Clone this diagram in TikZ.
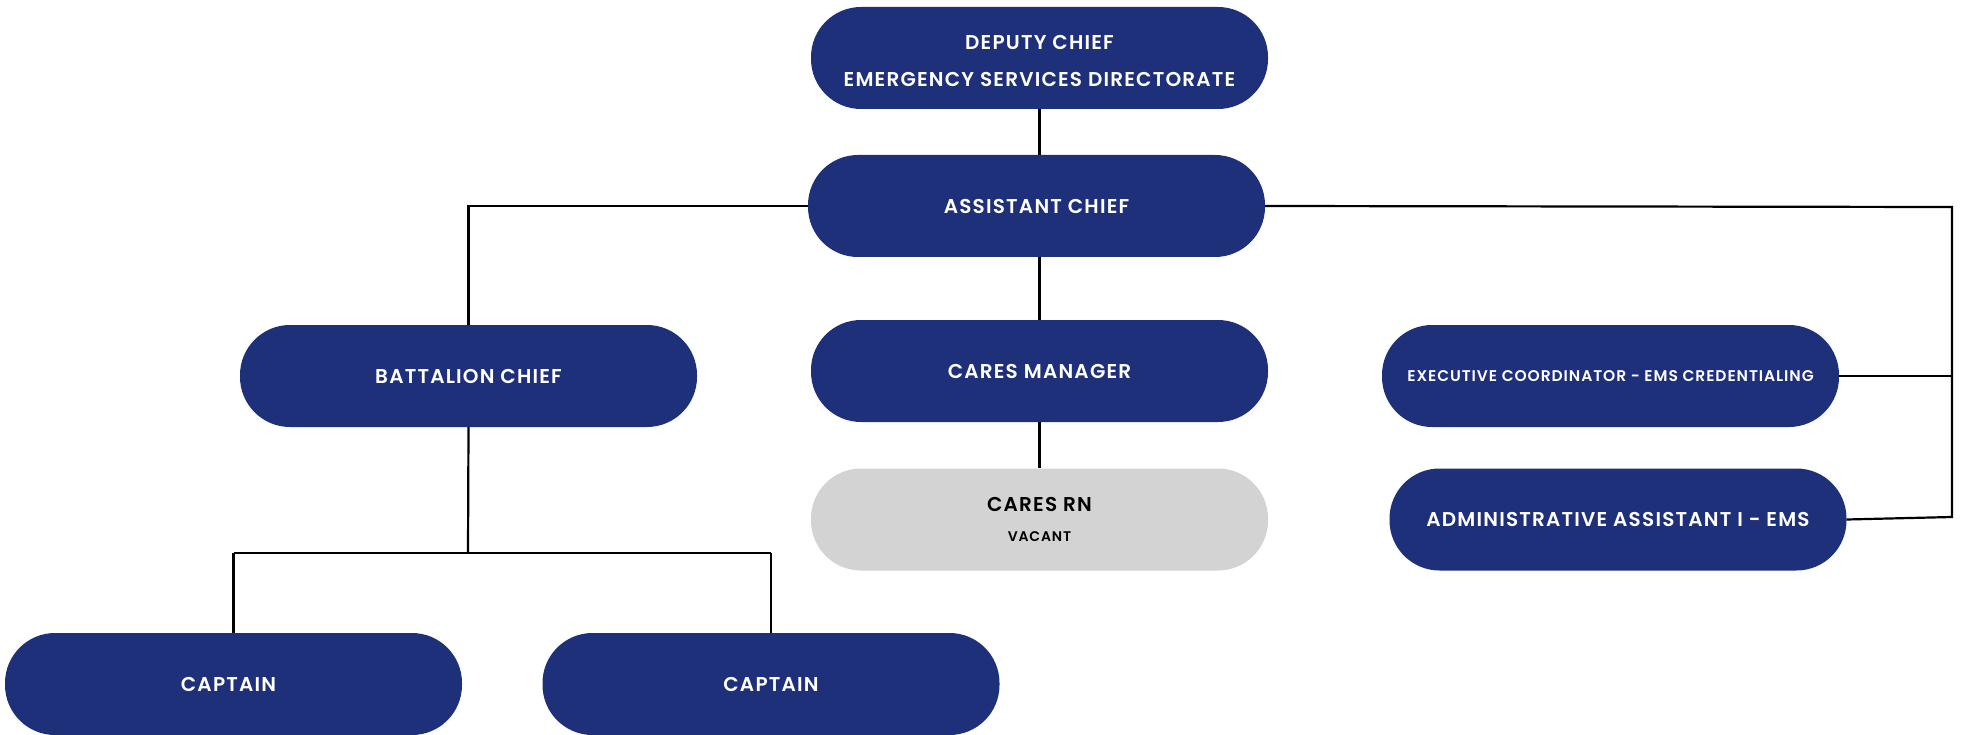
\documentclass[tikz,border=0pt]{standalone}
\usepackage{fontspec}
\setmainfont{Poppins}[BoldFont={Poppins SemiBold},LetterSpace=6]
\definecolor{navy}{HTML}{1F307B}
\definecolor{vacgrey}{HTML}{D3D3D3}
\begin{document}
\begin{tikzpicture}[x=1pt,y=-1pt,
  pill/.style={fill=navy,text=white,rounded corners=50pt,inner sep=0pt,
    minimum width=457pt,minimum height=102pt,align=center,font=\bfseries\fontsize{20}{36}\selectfont},
  vac/.style={pill,fill=vacgrey,text=black},
  link/.style={draw=black,line width=2.2pt}]
\useasboundingbox (0,0) rectangle (1962,735);
\node[pill] (dep) at (1039.5,58) {\raisebox{-8pt}[0pt][0pt]{\begin{tabular}{@{}c@{}}DEPUTY CHIEF\\[1pt]EMERGENCY SERVICES DIRECTORATE\end{tabular}}};
\node[pill] (asst) at (1036.5,206) {ASSISTANT CHIEF};
\node[pill] (bc) at (468.5,376) {BATTALION CHIEF};
\node[pill] (cm) at (1039.5,371) {CARES MANAGER};
\node[vac] (rn) at (1039.5,519.5) {CARES RN\\[-6pt]{\fontsize{14}{16}\selectfont VACANT}};
\node[pill,font=\bfseries\fontsize{15.5}{18}\selectfont] (exec) at (1610.5,376) {EXECUTIVE COORDINATOR - EMS CREDENTIALING};
\node[pill] (admin) at (1618,519.5) {ADMINISTRATIVE ASSISTANT I - EMS};
\node[pill] (cap1) at (233.5,684) {\hspace*{-10pt}CAPTAIN};
\node[pill] (cap2) at (771,684) {CAPTAIN};
\coordinate (rtop) at (1952,207);
\coordinate (rbot) at (1952,517);
\coordinate (bar) at (468,553);
\draw[link] (dep.south) -- (dep.south |- asst.north);
\draw[link] (asst.west) -- (bc.north |- asst.west) -- (bc.north);
\draw[link] (cm.north |- asst.south) -- (cm.north);
\draw[link] (cm.south) -- (rn.north);
\draw[link] (asst.east) -- (rtop) -- (rbot) -- (admin.east);
\draw[link] (exec.east) -- (rtop |- exec.east);
\draw[link] (bc.south) -- (bar);
\draw[link] (cap1.north |- bar) -- (cap2.north |- bar);
\draw[link] (cap1.north |- bar) -- (cap1.north);
\draw[link] (cap2.north |- bar) -- (cap2.north);
\end{tikzpicture}
\end{document}
